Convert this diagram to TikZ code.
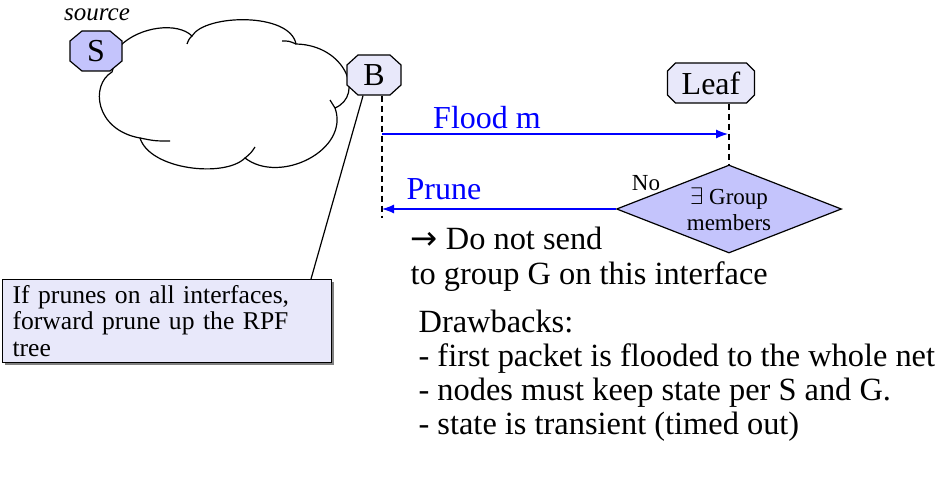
\documentclass[tikz,border=0pt]{standalone}
\usepackage{fontspec}
\setmainfont{Liberation Serif}
\newfontfamily\arrowfont{DejaVu Sans}
\usetikzlibrary{shapes.geometric,arrows.meta,shadows}
\definecolor{routerfill}{HTML}{C4C4FC}
\definecolor{palefill}{HTML}{E8E8FA}
\definecolor{flowblue}{HTML}{0000FF}

% octagonal router: name, x, y, half width, chamfer x, chamfer y, fill, label
\newcommand{\routerbox}[8]{%
	\draw[fill=#7] (#2-#4+#5,#3-20) -- (#2+#4-#5,#3-20) -- (#2+#4,#3-20+#6) -- (#2+#4,#3+20-#6) -- (#2+#4-#5,#3+20) -- (#2-#4+#5,#3+20) -- (#2-#4,#3+20-#6) -- (#2-#4,#3-20+#6) -- cycle;
	\node[routerlbl,minimum width=#4pt] (#1) at (#2,#3) {#8};
}

\begin{document}
\begin{tikzpicture}[x=0.5pt,y=-0.5pt,line width=0.6pt,
	routerlbl/.style={rectangle,minimum height=20pt,inner sep=0pt,font=\fontsize{16}{18}\selectfont},
	flow/.style={flowblue,-{Latex[length=6pt,width=4.5pt]}},
	life/.style={dash pattern=on 3pt off 2pt},
	lbl/.style={flowblue,inner sep=0pt,font=\fontsize{16}{18}\selectfont},
	body/.style={inner sep=0pt,align=left,font=\fontsize{16.2}{17}\selectfont}]
	\useasboundingbox (0,0) rectangle (940,481);
	
	% the network
	\draw[fill=white] (120,46) .. controls (140,26) and (178,22) .. (192,36)
		.. controls (205,14) and (290,12) .. (296,44)
		.. controls (345,45) and (365,95) .. (335,108)
		.. controls (350,150) and (280,185) .. (245,158)
		.. controls (225,178) and (150,170) .. (140,138)
		.. controls (95,130) and (90,85) .. (112,72) -- cycle; %
	\draw (192,36) .. controls (189,39) .. (187,44);
	\draw (296,44) .. controls (289,41) .. (282,41);
	\draw (335,108) .. controls (333,104) .. (330,100);
	\draw (245,158) .. controls (251,153) .. (255,147);
	\draw (140,138) .. controls (155,141) .. (170,141);
	
	\routerbox{S}{96}{51}{26}{12}{10}{routerfill}{S}
	\routerbox{B}{374}{75}{27}{11}{10}{palefill}{B}
	\routerbox{Leaf}{711}{83}{43.5}{8}{8}{palefill}{Leaf}
	\node[inner sep=0pt,font=\fontsize{12.5}{14}\selectfont\itshape] (src) at (97,15) {source};
	
	\node[diamond,draw,fill=routerfill,aspect=2.5,minimum width=112.5pt,minimum height=44pt,inner sep=0pt,align=center,font=\fontsize{11.5}{13}\selectfont] (Q) at (729,209) {$\exists$ Group\\members};
	\node[inner sep=0pt,font=\fontsize{11.5}{13}\selectfont] (no) at (646,183) {No};
	
	% lifelines and messages
	\coordinate (Bfoot) at (382,218);
	\coordinate (floodL) at (382,134);
	\coordinate (floodR) at (728,134);
	\draw[life] (B.south -| Bfoot) -- (Bfoot);
	\draw[life] (Leaf.south -| Q.north) -- (Q.north);
	\draw[flow] (floodL) -- (floodR);
	\draw[flow] (Q.west) -- (Q.west -| Bfoot);
	\node[lbl] (floodlbl) at (487,118) {Flood m};
	\node[lbl] (prunelbl) at (444,189) {Prune};
	
	\node[body,anchor=north west,font=\fontsize{16.2}{17.5}\selectfont] (effect) at (410,226) {{\arrowfont →} Do not send\\to group G on this interface};
	\node[body,anchor=north west] (cons) at (418,309) {Drawbacks:\\- first packet is flooded to the whole net\\- nodes must keep state per S and G.\\- state is transient (timed out)};
	
	% callout
	\node[draw,fill=palefill,drop shadow={fill=gray,opacity=1,shadow xshift=1pt,shadow yshift=-1pt},anchor=north west,minimum width=164.5pt,minimum height=41.5pt,inner xsep=5pt,inner ysep=1pt,text width=154.5pt,align=left,font=\fontsize{12.8}{13.2}\selectfont] (note) at (2,279) {If prunes on all interfaces,\\forward prune up the RPF\\tree};
	\coordinate (tip) at (311,279);
	\draw (tip) -- (B.-118);
	
\end{tikzpicture}
\end{document}
